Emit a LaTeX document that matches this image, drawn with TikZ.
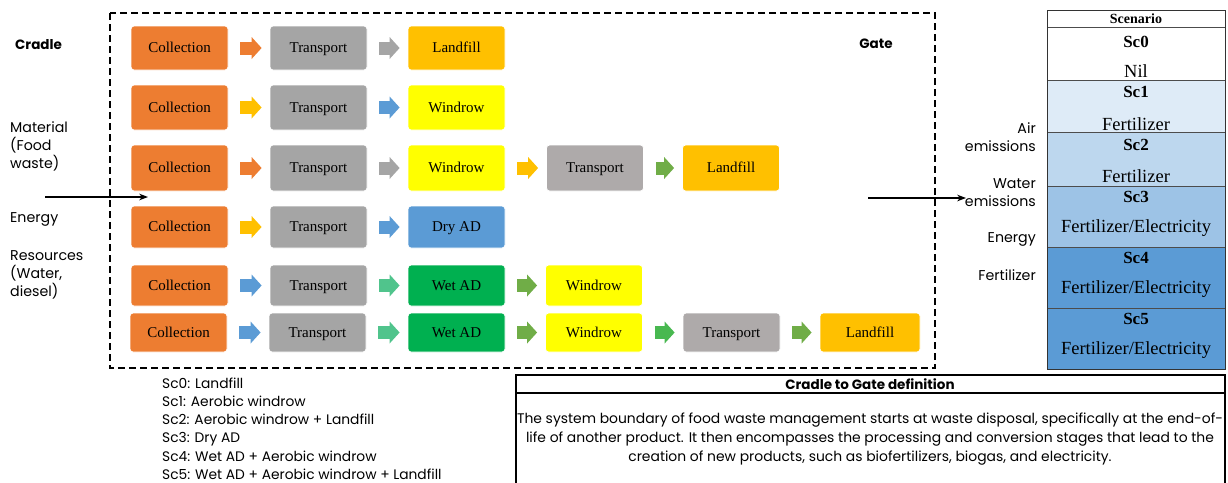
\documentclass[tikz,border=0pt]{standalone}
\usepackage{fontspec}
\setmainfont{Liberation Serif}
\newfontfamily\gothic{Poppins}
\usetikzlibrary{arrows.meta}

\definecolor{collect}{HTML}{ED7D31}
\definecolor{trans}{HTML}{A5A5A5}
\definecolor{transb}{HTML}{AEAAAA}
\definecolor{gold}{HTML}{FFC000}
\definecolor{windrow}{HTML}{FFFF00}
\definecolor{azure}{HTML}{5B9BD5}
\definecolor{wetad}{HTML}{00B050}
\definecolor{leaf}{HTML}{70AD47}
\definecolor{mint}{HTML}{50C48C}
\definecolor{lime}{HTML}{48B850}
\definecolor{scA}{HTML}{DEEBF7}
\definecolor{scB}{HTML}{BDD7EE}
\definecolor{scC}{HTML}{9DC3E6}

\begin{document}
\begin{tikzpicture}[x=1pt,y=-1pt,>=Stealth,
  proc/.style={fill=#1,draw=white,line width=0.8pt,rounded corners=3pt,minimum width=97pt,minimum height=44pt,inner sep=0pt,text height=9.5pt,text depth=0pt,font=\fontsize{15}{18}\selectfont},
  flow/.style={draw=#1,line width=13pt,-{Triangle[length=10pt,width=22pt,line width=0pt]},shorten <=12pt,shorten >=8pt},
  lbl/.style={font=\gothic\fontsize{14.2}{18}\selectfont,inner sep=0pt},
  cell/.style={font=\fontsize{18.5}{20}\selectfont,inner sep=0pt},
  cellhd/.style={font=\bfseries\fontsize{17}{20}\selectfont,inner sep=0pt}]
\useasboundingbox (0,0) rectangle (1228,482);

% system boundary
\draw[line width=2.5pt,dash pattern=on 7pt off 4pt] (110,13) rectangle (935,368);

% Sc0
\node[proc=collect] (col1) at (179.5,48) {Collection};
\node[proc=trans] (tra1) at (318.5,48) {Transport};
\node[proc=gold] (lan1) at (456.5,48) {Landfill};
\draw[flow=collect] (col1)--(tra1);
\draw[flow=trans] (tra1)--(lan1);

% Sc1
\node[proc=collect,minimum height=45pt] (col2) at (179.5,107.5) {Collection};
\node[proc=trans,minimum height=45pt] (tra2) at (318.5,107.5) {Transport};
\node[proc=windrow,minimum height=45pt] (win2) at (456.5,107.5) {Windrow};
\draw[flow=gold] (col2)--(tra2);
\draw[flow=azure] (tra2)--(win2);

% Sc2
\node[proc=collect,minimum height=46pt] (col3) at (179.5,168) {Collection};
\node[proc=trans,minimum height=46pt] (tra3) at (318.5,168) {Transport};
\node[proc=windrow,minimum height=46pt] (win3) at (456.5,168) {Windrow};
\node[proc=transb,minimum height=46pt] (trb3) at (595,168) {Transport};
\node[proc=gold,minimum height=46pt] (lan3) at (731,168) {Landfill};
\draw[flow=collect] (col3)--(tra3);
\draw[flow=trans] (tra3)--(win3);
\draw[flow=gold] (win3)--(trb3);
\draw[flow=leaf] (trb3)--(lan3);

% Sc3
\node[proc=collect,minimum height=42pt] (col4) at (179.5,227) {Collection};
\node[proc=trans,minimum height=42pt] (tra4) at (318.5,227) {Transport};
\node[proc=azure,minimum height=42pt] (dry4) at (456.5,227) {Dry AD};
\draw[flow=gold] (col4)--(tra4);
\draw[flow=azure] (tra4)--(dry4);

% Sc4
\node[proc=collect,minimum height=41pt] (col5) at (179.5,285.5) {Collection};
\node[proc=trans,minimum height=41pt] (tra5) at (318.5,285.5) {Transport};
\node[proc=wetad,minimum height=41pt] (wet5) at (456.5,285.5) {Wet AD};
\node[proc=windrow,minimum height=41pt] (win5) at (594,285.5) {Windrow};
\draw[flow=azure] (col5)--(tra5);
\draw[flow=mint] (tra5)--(wet5);
\draw[flow=leaf] (wet5)--(win5);

% Sc5
\node[proc=collect,minimum height=39pt] (col6) at (178.5,332.5) {Collection};
\node[proc=trans,minimum height=39pt] (tra6) at (317.5,332.5) {Transport};
\node[proc=wetad,minimum height=39pt] (wet6) at (456.5,332.5) {Wet AD};
\node[proc=windrow,minimum height=39pt] (win6) at (594,332.5) {Windrow};
\node[proc=transb,minimum height=39pt] (trb6) at (731.5,332.5) {Transport};
\node[proc=gold,minimum height=39pt,minimum width=100pt] (lan6) at (870,332.5) {Landfill};
\draw[flow=azure] (col6)--(tra6);
\draw[flow=mint] (tra6)--(wet6);
\draw[flow=leaf] (wet6)--(win6);
\draw[flow=lime] (win6)--(trb6);
\draw[flow=leaf] (trb6)--(lan6);

% inputs
\node[lbl,font=\gothic\bfseries\fontsize{13.5}{18}\selectfont,anchor=west] (cradle) at (15,45) {Cradle};
\node[lbl,anchor=north west,align=left] (mat) at (10,121) {Material\\(Food\\waste)};
\node[lbl,anchor=west] (ene) at (10,219) {Energy};
\node[lbl,anchor=north west,align=left] (res) at (10,250) {Resources\\(Water,\\diesel)};
\coordinate (inA) at (45,197);
\coordinate (inB) at (148,197);
\draw[->,line width=1.3pt] (inA)--(inB);

% outputs
\node[lbl,font=\gothic\bfseries\fontsize{13.5}{18}\selectfont] (gate) at (876,44) {Gate};
\coordinate (outA) at (868,198);
\coordinate (outB) at (966,198);
\draw[->,line width=1.3pt] (outA)--(outB);
\node[lbl,anchor=east,align=right] (air) at (1036,137.5) {Air\\emissions};
\node[lbl,anchor=east,align=right] (wat) at (1036,193) {Water\\emissions};
\node[lbl,anchor=east] (eno) at (1036,239) {Energy};
\node[lbl,anchor=east] (fer) at (1036,275) {Fertilizer};

% scenario table
\fill[scA] (1047,80) rectangle (1225,132);
\fill[scB] (1047,132) rectangle (1225,186);
\fill[scC] (1047,186) rectangle (1225,247);
\fill[azure] (1047,247) rectangle (1225,369);
\draw[line width=0.8pt,black!70] (1047,27)--(1225,27) (1047,80)--(1225,80) (1047,132)--(1225,132)
  (1047,186)--(1225,186) (1047,247)--(1225,247) (1047,308)--(1225,308);
\draw[line width=1pt,black!80] (1047,10) rectangle (1225,369);
\node[cellhd,font=\bfseries\fontsize{14}{16}\selectfont] (scen) at (1136,19) {Scenario};
\node[cellhd] (s0) at (1136,42) {Sc0};
\node[cell] (v0) at (1136,71) {Nil};
\node[cellhd] (s1) at (1136,92) {Sc1};
\node[cell] (v1) at (1136,124) {Fertilizer};
\node[cellhd] (s2) at (1136,145) {Sc2};
\node[cell] (v2) at (1136,176) {Fertilizer};
\node[cellhd] (s3) at (1136,197) {Sc3};
\node[cell] (v3) at (1136,228) {Fertilizer/Electricity};
\node[cellhd] (s4) at (1136,258) {Sc4};
\node[cell] (v4) at (1136,289) {Fertilizer/Electricity};
\node[cellhd] (s5) at (1136,319) {Sc5};
\node[cell] (v5) at (1136,350) {Fertilizer/Electricity};

% legend
\node[lbl,font=\gothic\fontsize{13.8}{18.2}\selectfont,anchor=north west,align=left] (legend) at (162,377.5)
 {Sc0: Landfill\\Sc1: Aerobic windrow\\Sc2: Aerobic windrow + Landfill\\Sc3: Dry AD\\
  Sc4: Wet AD + Aerobic windrow\\Sc5: Wet AD + Aerobic windrow + Landfill};

% definition box
\draw[line width=1.8pt] (516,490)--(516,375)--(1225,375)--(1225,490);
\draw[line width=1.8pt] (516,393)--(1225,393);
\node[lbl,font=\gothic\bfseries\fontsize{13.5}{18}\selectfont] (defhd) at (870,384) {Cradle to Gate definition};
\node[lbl,font=\gothic\fontsize{13.9}{19}\selectfont,align=center] (defbody) at (870,439)
 {The system boundary of food waste management starts at waste disposal, specifically at the end-of-\\
  life of another product. It then encompasses the processing and conversion stages that lead to the\\
  creation of new products, such as biofertilizers, biogas, and electricity.};
\end{tikzpicture}
\end{document}
